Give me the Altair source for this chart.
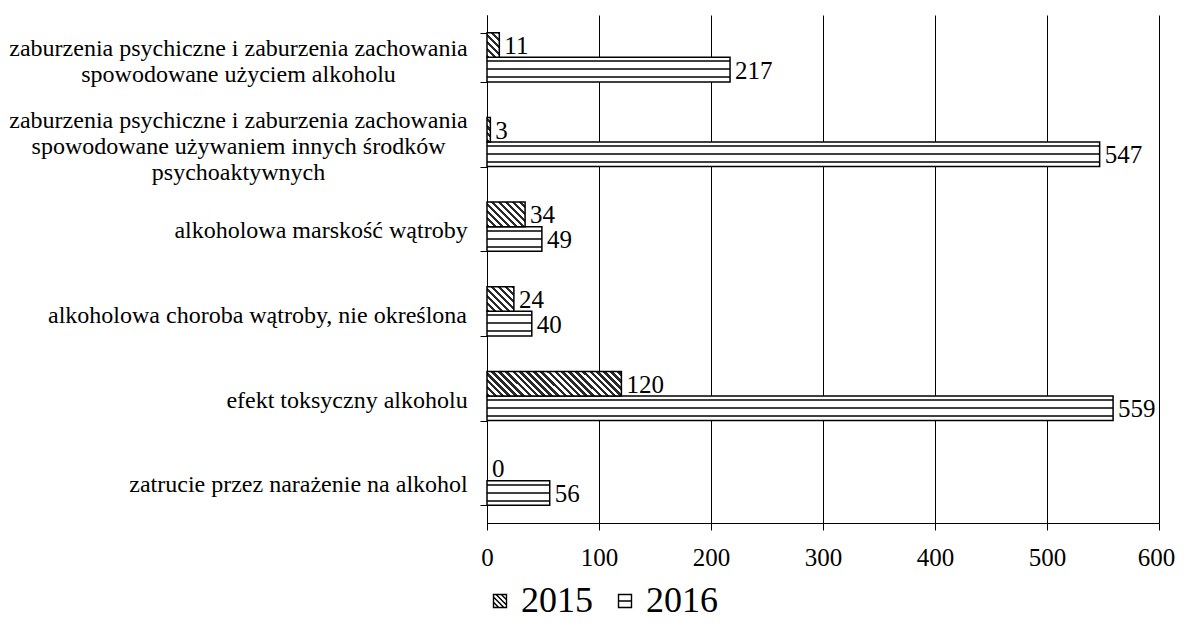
import json
import altair as alt
import pandas as pd

# ---------------- data ----------------
categories = [
    "zaburzenia psychiczne i zaburzenia zachowania\nspowodowane użyciem alkoholu",
    "zaburzenia psychiczne i zaburzenia zachowania\nspowodowane używaniem innych środków\npsychoaktywnych",
    "alkoholowa marskość wątroby",
    "alkoholowa choroba wątroby, nie określona",
    "efekt toksyczny alkoholu",
    "zatrucie przez narażenie na alkohol",
]
years = ["2015", "2016"]
values_2015 = [11, 3, 34, 24, 120, 0]
values_2016 = [217, 547, 49, 40, 559, 56]
x_ticks = [0, 100, 200, 300, 400, 500, 600]

# ---------------- styling ----------------
FONT = "Liberation Serif"
PLOT_W, PLOT_H = 672, 508
X_MAX = 600
PAD_INNER = 0.42
LINE_H = 26
LABEL_SHIFT = 4
label_pad = [242, 242, 159.5, 223, 133.5, 182]  # per-label offset of centred labels
label_lines = [c.count("\n") + 1 for c in categories]

# legend symbol outlines (unit square with hatch lines)
SYM_2015 = (
    "M-1,-1H1V1H-1Z"
    "M-1,0.2L-0.2,1M-1,-0.6L0.6,1M-0.6,-1L1,0.6M0.2,-1L1,-0.2"
)
SYM_2016 = "M-1,-1H1V1H-1Z M-1,0H1"

rows = []
for i, (c, v15, v16) in enumerate(zip(categories, values_2015, values_2016)):
    rows.append({"idx": i, "cat": c, "year": "2015", "value": v15})
    rows.append({"idx": i, "cat": c, "year": "2016", "value": v16})
df = pd.DataFrame(rows)

step = PLOT_H / len(categories)
bar_h = step * (1 - PAD_INNER) / 2
px_per_unit = PLOT_W / X_MAX


def hatch_gradient(W, H, P=7.0, duty=0.45, dark="#2a2a2a", light="#ffffff"):
    """Diagonal '\\' stripes with ~P px horizontal period inside a W x H box."""
    W = max(W, 0.5)
    S = W + H
    D = W * W + H * H
    x2 = W * S / D
    y2 = 1 - H * S / D
    N = S / P
    stops = []
    i = 0
    while i < N:
        a = i / N
        b = min((i + duty) / N, 1.0)
        c = min((i + 1) / N, 1.0)
        stops += [
            {"offset": round(a, 5), "color": dark},
            {"offset": round(b, 5), "color": dark},
            {"offset": round(b, 5), "color": light},
            {"offset": round(c, 5), "color": light},
        ]
        i += 1
    return {"gradient": "linear", "x1": 0, "y1": 1, "x2": round(x2, 5), "y2": round(y2, 5), "stops": stops}


def hline_gradient(H, lines, thick=2.0, dark="#404040", light="#ffffff"):
    stops = [{"offset": 0, "color": light}]
    for y0 in lines:
        a = y0 / H
        b = (y0 + thick) / H
        stops += [
            {"offset": round(a, 5), "color": light},
            {"offset": round(a, 5), "color": dark},
            {"offset": round(b, 5), "color": dark},
            {"offset": round(b, 5), "color": light},
        ]
    stops.append({"offset": 1, "color": light})
    return {"gradient": "linear", "x1": 0, "y1": 0, "x2": 0, "y2": 1, "stops": stops}


def cat_test(c):
    return "datum.value === " + json.dumps(c, ensure_ascii=False)


pad_tests = [{"test": cat_test(c), "value": p} for c, p in zip(categories, label_pad)]
off_tests = [
    {"test": cat_test(c), "value": LABEL_SHIFT - (n - 1) * LINE_H / 2}
    for c, n in zip(categories, label_lines) if n > 1
]

x_enc = alt.X(
    "value:Q",
    scale=alt.Scale(domain=[0, X_MAX], nice=False),
    axis=alt.Axis(
        title=None, values=x_ticks, format="d", grid=True, gridColor="black",
        gridWidth=1, gridOpacity=1, domainColor="black", domainWidth=1,
        tickColor="black", tickSize=7, tickWidth=1, labelFont=FONT,
        labelFontSize=25, labelColor="black", labelPadding=15, labelFlush=False,
        labelOffset={"condition": {"test": f"datum.value === {X_MAX}", "value": -3}, "value": 0},
    ),
)
y_enc = alt.Y(
    "cat:N",
    sort=categories,
    scale=alt.Scale(paddingInner=PAD_INNER, paddingOuter=PAD_INNER / 2),
    axis=alt.Axis(
        title=None, labelExpr="split(datum.label, '\\n')", labelAlign="center",
        labelBaseline="middle",
        labelPadding={"condition": pad_tests, "value": 180},
        labelOffset={"condition": off_tests, "value": LABEL_SHIFT},
        labelFont=FONT, labelFontSize=24, labelLineHeight=LINE_H, labelColor="black",
        labelLimit=1000, tickBand="extent", tickSize=7, tickColor="black",
        tickWidth=1, domainColor="black", domainWidth=1, grid=False,
    ),
)
yo_enc = alt.YOffset("year:N", sort=years, scale=alt.Scale(paddingInner=0, paddingOuter=0))

base = alt.Chart(df)

layers = []
layers.append(
    base.transform_filter("datum.year === '2016'")
    .mark_bar(fill=hline_gradient(bar_h, [3, 11, 19]), stroke="black", strokeWidth=1.5)
    .encode(x=x_enc, y=y_enc, yOffset=yo_enc)
)
for i, v in enumerate(values_2015):
    if v <= 0:
        continue
    layers.append(
        base.transform_filter(f"datum.year === '2015' && datum.idx === {i}")
        .mark_bar(fill=hatch_gradient(v * px_per_unit, bar_h), stroke="black", strokeWidth=1.5)
        .encode(x=x_enc, y=y_enc, yOffset=yo_enc)
    )
layers.append(
    base.mark_text(align="left", baseline="middle", dx=5, dy=1, font=FONT, fontSize=25, color="black")
    .encode(x=x_enc, y=y_enc, yOffset=yo_enc, text="value:Q")
)
# a layer that draws nothing (all rows filtered) and only carries the legend
layers.append(
    base.transform_filter("false")
    .mark_point(opacity=1, filled=False, stroke="black", strokeWidth=1.3, size=169)
    .encode(
        x=x_enc, y=y_enc, yOffset=yo_enc,
        shape=alt.Shape(
            "year:N",
            scale=alt.Scale(domain=years, range=[SYM_2015, SYM_2016]),
            legend=alt.Legend(
                title=None, orient="none", legendX=-5, legendY=568,
                direction="horizontal", symbolSize=169, symbolStrokeWidth=1.4,
                symbolStrokeColor="black", symbolFillColor="white", symbolOpacity=1,
                labelFont=FONT, labelFontSize=36, labelColor="black",
                labelOffset=3, columnPadding=14, padding=0,
            ),
        ),
    )
)

chart = (
    alt.layer(*layers)
    .properties(
        width=PLOT_W, height=PLOT_H,
        autosize=alt.AutoSizeParams(type="none"),
        padding={"top": 7, "left": 479, "right": 17, "bottom": 97},
    )
    .configure_view(stroke="transparent")
)

chart.save("out.html", embed_options={"renderer": "svg", "actions": False})
